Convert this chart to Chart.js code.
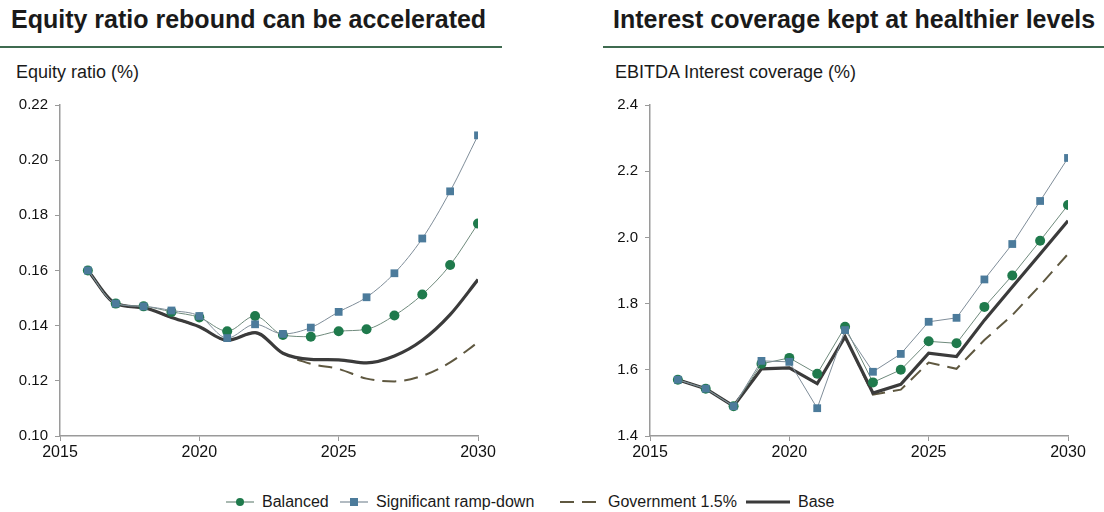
<!DOCTYPE html>
<html>
<head>
<meta charset="utf-8">
<script src="https://cdn.jsdelivr.net/npm/chart.js@4"></script>
<style>
  body { margin: 0; width: 1104px; height: 512px; background: #fff; font-family: "Liberation Sans", Arial, sans-serif; color: #1a1a1a; position: relative; overflow: hidden; }
  .title { position: absolute; top: 5px; font-size: 25px; font-weight: bold; white-space: nowrap; }
  .rule { position: absolute; top: 46px; height: 2px; background: #3f6b50; }
  .sub { position: absolute; top: 62px; font-size: 18px; white-space: nowrap; }
  .box { position: absolute; top: 89px; width: 500px; height: 387px; }
  .item { position: absolute; top: 493px; display: flex; align-items: center; font-size: 16px; white-space: nowrap; }
  .item canvas { margin-right: 8px; }
</style>
</head>
<body>
<div class="title" style="left:11px">Equity ratio rebound can be accelerated</div>
<div class="rule" style="left:0;width:502px"></div>
<div class="sub" style="left:16px">Equity ratio (%)</div>
<div class="title" style="left:613px">Interest coverage kept at healthier levels</div>
<div class="rule" style="left:603px;width:501px"></div>
<div class="sub" style="left:615px">EBITDA Interest coverage (%)</div>
<div class="box" style="left:0"><canvas id="equity"></canvas></div>
<div class="box" style="left:590px"><canvas id="coverage"></canvas></div>
<script>
var years = [2016, 2017, 2018, 2019, 2020, 2021, 2022, 2023, 2024, 2025, 2026, 2027, 2028, 2029, 2030];
var seriesNames = ["Balanced", "Significant ramp-down", "Government 1.5%", "Base"];

// equity ratio
var equityBalanced = [0.160, 0.148, 0.147, 0.145, 0.143, 0.138, 0.1435, 0.1366, 0.136, 0.138, 0.1387, 0.1437, 0.1513, 0.162, 0.177];
var equityRampDown = [0.160, 0.148, 0.147, 0.1455, 0.1435, 0.1355, 0.1405, 0.137, 0.1393, 0.145, 0.1503, 0.159, 0.1716, 0.1887, 0.209];
var equityGovernment = [0.160, 0.148, 0.1465, 0.143, 0.1396, 0.1347, 0.1375, 0.130, 0.1262, 0.1243, 0.1208, 0.1198, 0.1218, 0.1267, 0.134];
var equityBase = [0.160, 0.148, 0.1465, 0.143, 0.1396, 0.1347, 0.1375, 0.130, 0.1278, 0.1276, 0.1265, 0.129, 0.1347, 0.144, 0.1567];
var equityTicks = { min: 0.10, max: 0.22, step: 0.02, digits: 2 };

// interest coverage
var coverBalanced = [1.57, 1.543, 1.49, 1.618, 1.636, 1.588, 1.73, 1.562, 1.60, 1.686, 1.68, 1.79, 1.885, 1.99, 2.098];
var coverRampDown = [1.57, 1.543, 1.49, 1.627, 1.624, 1.484, 1.72, 1.594, 1.648, 1.745, 1.757, 1.873, 1.98, 2.11, 2.24];
var coverGovernment = [1.57, 1.543, 1.49, 1.603, 1.606, 1.558, 1.70, 1.525, 1.54, 1.622, 1.603, 1.69, 1.765, 1.855, 1.95];
var coverBase = [1.57, 1.543, 1.49, 1.603, 1.606, 1.558, 1.70, 1.53, 1.556, 1.65, 1.64, 1.75, 1.85, 1.95, 2.05];
var coverTicks = { min: 1.4, max: 2.4, step: 0.2, digits: 1 };

var styles = [
    { color: "#6f8a7c", fill: "#1f7a4c", point: "circle", radius: 5, width: 1, dash: [], order: 1 },
    { color: "#7f8d99", fill: "#4c7b9b", point: "rect", radius: 5.5, width: 1, dash: [], order: 0 },
    { color: "#5f5840", fill: "#5f5840", point: false, radius: 0, width: 2, dash: [14, 8], order: 3 },
    { color: "#3b3b3b", fill: "#3b3b3b", point: false, radius: 0, width: 3.2, dash: [], order: 2 }
];

// legend item positions: [symbol left, symbol width]
var legendSlots = [[226, 28], [340, 28], [560, 40], [746, 44]];

function toPoints (values) {
    return values.map(function (v, i) { return { x: years[i], y: v }; });
}

function makeChart (id, series, yTicks, smooth) {
    var datasets = series.map(function (values, i) {
        var s = styles[i];
        return {
            label: seriesNames[i],
            data: toPoints(values),
            borderColor: s.color,
            borderWidth: s.width,
            borderDash: s.dash,
            pointStyle: s.point,
            pointRadius: s.radius,
            pointBackgroundColor: s.fill,
            pointBorderColor: s.fill,
            pointBorderWidth: 0,
            cubicInterpolationMode: smooth ? "monotone" : "default",
            tension: 0,
            order: s.order
        };
    });
    return new Chart(document.getElementById(id), {
        type: "line",
        data: { datasets: datasets },
        options: {
            responsive: true,
            maintainAspectRatio: false,
            animation: false,
            layout: { padding: { top: 0, right: 22, left: 0, bottom: 0 } },
            plugins: { legend: { display: false }, tooltip: { enabled: false } },
            scales: {
                x: {
                    type: "linear", min: 2015, max: 2030,
                    border: { color: "#9a9a9a", width: 1.5 },
                    grid: { drawOnChartArea: false, tickLength: 5, color: "#9a9a9a" },
                    ticks: { stepSize: 5, padding: 2, color: "#111", font: { family: "Liberation Sans", size: 16 }, callback: function (v) { return String(v); } },
                    afterFit: function (scale) { scale.height = 40; }
                },
                y: {
                    min: yTicks.min, max: yTicks.max,
                    border: { color: "#9a9a9a", width: 1.5 },
                    grid: { drawOnChartArea: false, tickLength: 5, color: "#9a9a9a" },
                    ticks: { stepSize: yTicks.step, padding: 7, color: "#111", font: { family: "Liberation Sans", size: 15 }, callback: function (v) { return v.toFixed(yTicks.digits); } },
                    afterFit: function (scale) { scale.width = 60; }
                }
            }
        }
    });
}

makeChart("equity", [equityBalanced, equityRampDown, equityGovernment, equityBase], equityTicks, true);
makeChart("coverage", [coverBalanced, coverRampDown, coverGovernment, coverBase], coverTicks, false);

// shared legend under both panels
styles.forEach(function (s, i) {
    var slot = legendSlots[i];
    var item = document.createElement("div");
    item.className = "item";
    item.style.left = slot[0] + "px";
    var sym = document.createElement("canvas");
    sym.width = slot[1]; sym.height = 14;
    var c = sym.getContext("2d");
    c.strokeStyle = s.color;
    c.lineWidth = s.width === 1 ? 1.2 : s.width;
    c.setLineDash(s.dash.length ? [14, 8] : []);
    c.beginPath(); c.moveTo(0, 7); c.lineTo(slot[1], 7); c.stroke();
    c.fillStyle = s.fill;
    var mid = slot[1] / 2;
    if (s.point === "circle") { c.beginPath(); c.arc(mid, 7, 4, 0, Math.PI * 2); c.fill(); }
    if (s.point === "rect") { c.fillRect(mid - 4, 3, 8, 8); }
    item.appendChild(sym);
    item.appendChild(document.createTextNode(seriesNames[i]));
    document.body.appendChild(item);
});
</script>
</body>
</html>
